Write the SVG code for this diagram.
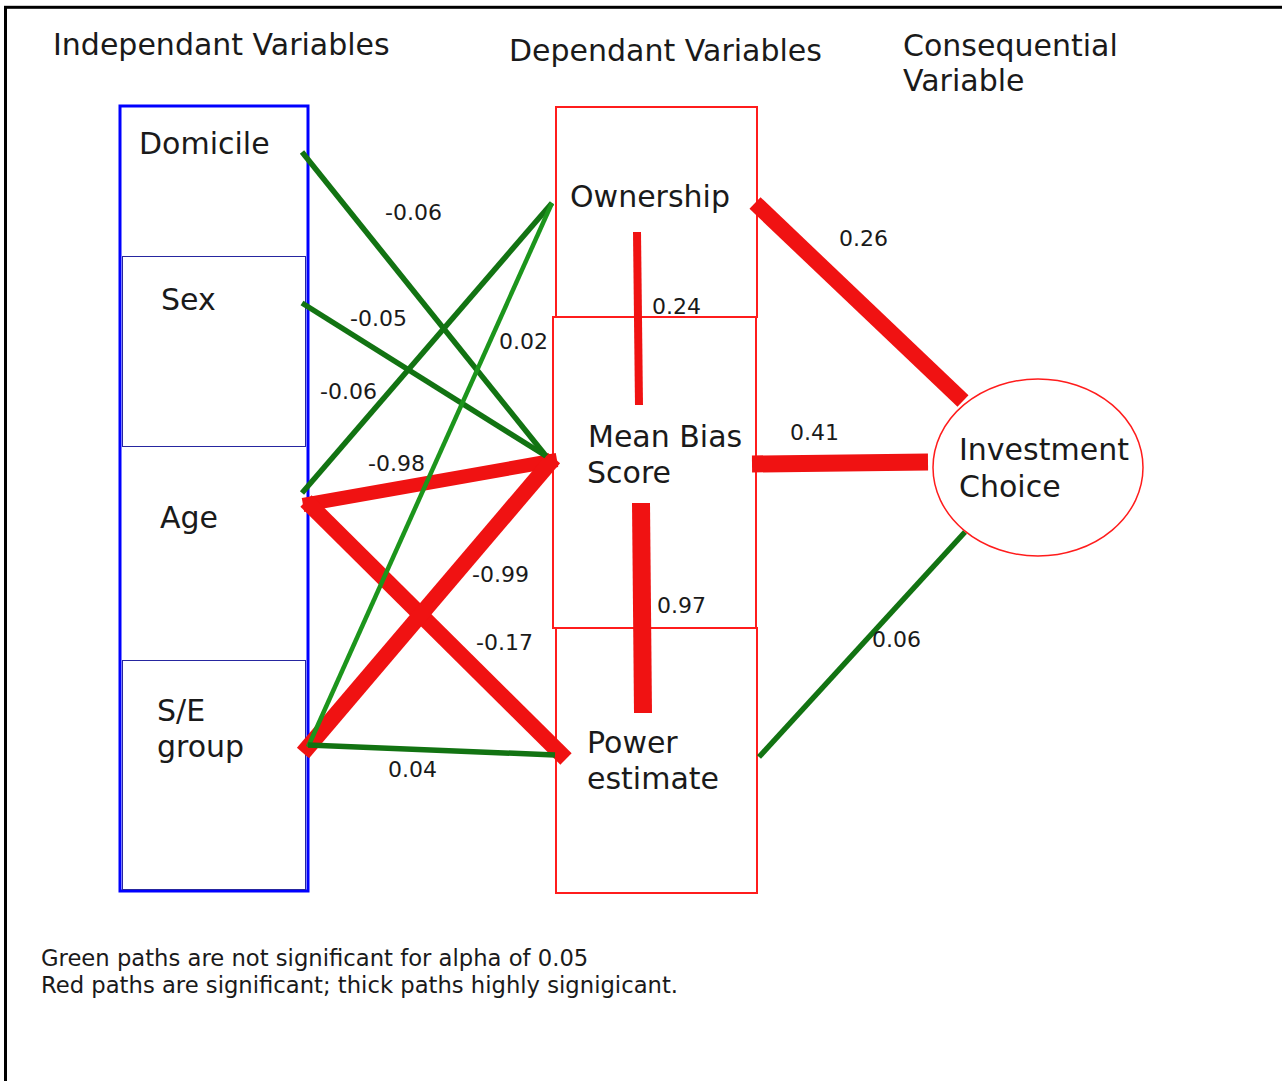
<svg xmlns="http://www.w3.org/2000/svg" width="1282" height="1081" viewBox="0 0 1282 1081">
<style>
text{font-family:"DejaVu Sans","Liberation Sans",sans-serif;fill:#1a1a1a}
.h{font-size:30px}
.n{font-size:30px}
.l{font-size:22px}
.f{font-size:22.7px}
.rbox{fill:none;stroke:#ff1c1c;stroke-width:2}
.bin{fill:none;stroke:#2626a0;stroke-width:1}
.g{stroke:#127312;stroke-width:5.5;fill:none}
.g2{stroke:#1c951c;stroke-width:4.5;fill:none}
.r{stroke:#f01212;fill:none}
</style>
<rect x="0" y="0" width="1282" height="1081" fill="#fff"/>
<rect x="5.5" y="7.3" width="1300" height="1100" fill="none" stroke="#000" stroke-width="3"/>
<g id="headings">
<text class="h" x="53" y="55">Independant Variables</text>
<text class="h" x="509" y="61">Dependant Variables</text>
<text class="h" x="903" y="56">Consequential</text>
<text class="h" x="903" y="91">Variable</text>
</g>
<g id="independent">
<rect x="120" y="106" width="188" height="785" fill="none" stroke="#0000ff" stroke-width="3"/>
<g id="domicile"><text class="n" x="139" y="154">Domicile</text></g>
<g id="sex"><rect class="bin" x="122.5" y="256.5" width="183" height="190"/><text class="n" x="161" y="310">Sex</text></g>
<g id="age"><text class="n" x="160" y="528">Age</text></g>
<g id="segroup"><rect class="bin" x="122.5" y="660.5" width="183" height="229"/><text class="n" x="157" y="721">S/E</text><text class="n" x="157" y="757">group</text></g>
</g>
<g id="dependent">
<g id="ownership"><rect class="rbox" x="556" y="107" width="201" height="210"/><text class="n" x="570" y="207">Ownership</text></g>
<g id="meanbias"><rect class="rbox" x="553" y="317" width="203" height="311"/><text class="n" x="588" y="447">Mean Bias</text><text class="n" x="587" y="483">Score</text></g>
<g id="power"><rect class="rbox" x="556" y="628" width="201" height="265"/><text class="n" x="587" y="753">Power</text><text class="n" x="587" y="789">estimate</text></g>
</g>
<g id="connectors">
<line class="r" x1="303" y1="505" x2="557" y2="460" stroke="#f52424" stroke-width="14"/>
<line class="r" x1="306" y1="501" x2="566" y2="759" stroke-width="16"/>
<line class="r" x1="303" y1="753" x2="554" y2="458" stroke-width="16"/>
<line class="r" x1="755" y1="203" x2="963" y2="401" stroke-width="16"/>
<line class="r" x1="752" y1="464" x2="928" y2="462" stroke-width="17"/>
<line class="r" x1="637" y1="232" x2="639" y2="405" stroke-width="8"/>
<line class="r" x1="641" y1="503" x2="643" y2="713" stroke-width="18"/>
<line class="g" x1="302" y1="152" x2="546" y2="456"/>
<line class="g" x1="302" y1="303" x2="546" y2="456"/>
<line class="g" x1="302" y1="493" x2="552" y2="203"/>
<line class="g2" x1="308" y1="747" x2="552" y2="203"/>
<line class="g" x1="308" y1="745" x2="555" y2="755"/>
<line class="g" x1="759" y1="757" x2="965" y2="532"/>
</g>
<g id="investment">
<ellipse cx="1038" cy="467.5" rx="105" ry="88.5" fill="#fff" stroke="#ff1c1c" stroke-width="1.5"/>
<text class="n" x="959" y="460">Investment</text>
<text class="n" x="959" y="497">Choice</text>
</g>
<g id="labels">
<text class="l" x="385" y="220">-0.06</text>
<text class="l" x="350" y="326">-0.05</text>
<text class="l" x="499" y="349">0.02</text>
<text class="l" x="320" y="399">-0.06</text>
<text class="l" x="368" y="471">-0.98</text>
<text class="l" x="472" y="582">-0.99</text>
<text class="l" x="476" y="650">-0.17</text>
<text class="l" x="388" y="777">0.04</text>
<text class="l" x="652" y="314">0.24</text>
<text class="l" x="839" y="246">0.26</text>
<text class="l" x="790" y="440">0.41</text>
<text class="l" x="657" y="613">0.97</text>
<text class="l" x="872" y="647">0.06</text>
</g>
<g id="legend">
<text class="f" x="41" y="966">Green paths are not significant for alpha of 0.05</text>
<text class="f" x="41" y="993">Red paths are significant; thick paths highly signigicant.</text>
</g>
</svg>
